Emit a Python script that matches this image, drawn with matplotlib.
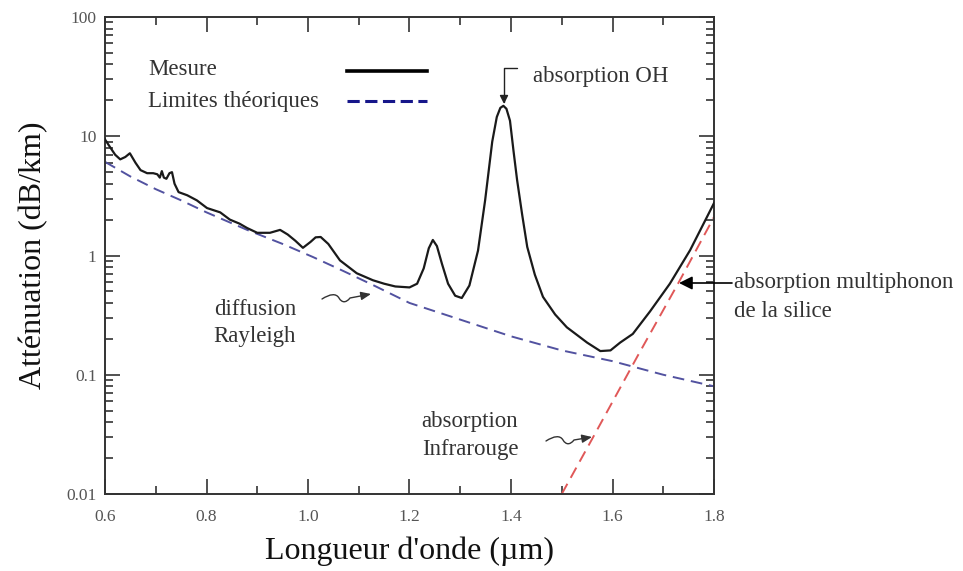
import matplotlib
matplotlib.use("Agg")
import matplotlib.pyplot as plt
from matplotlib.path import Path
from matplotlib.patches import FancyArrowPatch
from matplotlib.ticker import FixedLocator, LogLocator, NullFormatter

plt.rcParams['font.family'] = ['Liberation Serif', 'DejaVu Serif']

# measured attenuation (black curve)
wl_meas = [0.600, 0.610, 0.620, 0.630, 0.640, 0.649, 0.660, 0.670, 0.683, 0.695,
           0.703, 0.708, 0.712, 0.716, 0.721, 0.727, 0.732, 0.737, 0.745, 0.762,
           0.781, 0.801, 0.827, 0.846, 0.865, 0.880, 0.900, 0.925, 0.945, 0.960,
           0.975, 0.990, 1.005, 1.015, 1.025, 1.040, 1.063, 1.096, 1.128, 1.150,
           1.172, 1.200, 1.215, 1.228, 1.238, 1.246, 1.254, 1.264, 1.276, 1.290,
           1.303, 1.318, 1.335, 1.349, 1.363, 1.372, 1.379, 1.385, 1.391, 1.398,
           1.405, 1.412, 1.422, 1.432, 1.447, 1.463, 1.487, 1.510, 1.550, 1.576,
           1.596, 1.615, 1.640, 1.674, 1.713, 1.753, 1.800]
att_meas = [9.4, 8.1, 7.0, 6.4, 6.7, 7.2, 6.0, 5.2, 4.9, 4.9,
            4.8, 4.5, 5.1, 4.5, 4.4, 4.9, 5.0, 4.0, 3.4, 3.2,
            2.9, 2.5, 2.3, 2.0, 1.85, 1.7, 1.55, 1.55, 1.64, 1.5,
            1.33, 1.16, 1.3, 1.42, 1.43, 1.25, 0.91, 0.71, 0.62, 0.58,
            0.55, 0.54, 0.58, 0.78, 1.15, 1.35, 1.2, 0.85, 0.58, 0.46,
            0.44, 0.56, 1.1, 2.9, 9.0, 14.5, 17.3, 18.0, 17.0, 13.5,
            7.5, 4.3, 2.2, 1.18, 0.69, 0.45, 0.32, 0.25, 0.186, 0.158,
            0.16, 0.186, 0.22, 0.34, 0.58, 1.11, 2.75]

# theoretical limits: Rayleigh scattering (blue) and infrared absorption (red)
wl_ray = [0.60, 0.65, 0.70, 0.75, 0.80, 0.88, 0.95, 1.01, 1.07, 1.13,
          1.20, 1.30, 1.40, 1.50, 1.60, 1.70, 1.80]
att_ray = [6.1, 4.6, 3.6, 2.9, 2.3, 1.64, 1.25, 0.97, 0.74, 0.56,
           0.40, 0.29, 0.21, 0.16, 0.13, 0.10, 0.08]
wl_ir = [1.50, 1.56, 1.65, 1.73, 1.80]
att_ir = [0.010, 0.029, 0.145, 0.59, 2.1]

xticks = [0.6, 0.8, 1.0, 1.2, 1.4, 1.6, 1.8]
xlabels = ['0.6', '0.8', '1.0', '1.2', '1.4', '1.6', '1.8']
yticks = [0.01, 0.1, 1, 10, 100]
ylabels = ['0.01', '0.1', '1', '10', '100']

W, H = 963, 571
fig = plt.figure(figsize=(W / 100, H / 100), dpi=100)
ax = fig.add_axes([105 / W, 1 - 494 / H, 609 / W, 477 / H])


def fpx(x, y):
    # pixel position in the picture -> figure fraction
    return (x / W, 1 - y / H)


ax.plot(wl_meas, att_meas, color='#1a1a1a', lw=1.6, zorder=3)
ax.plot(wl_ray, att_ray, color='#5252a0', lw=1.4, ls=(0, (6, 3.5)), zorder=2)
ax.plot(wl_ir, att_ir, color='#e05858', lw=1.4, ls=(0, (6, 3.5)), zorder=2)

ax.set_yscale('log')
ax.set_xlim(0.6, 1.8)
ax.set_ylim(0.01, 100)
ax.set_xticks(xticks)
ax.set_xticklabels(xlabels)
ax.xaxis.set_minor_locator(FixedLocator([0.7, 0.9, 1.1, 1.3, 1.5, 1.7]))
ax.set_yticks(yticks)
ax.set_yticklabels(ylabels)
ax.yaxis.set_minor_locator(LogLocator(base=10, subs=range(2, 10)))
ax.yaxis.set_minor_formatter(NullFormatter())

ax.tick_params(which='both', direction='in', top=True, right=True,
               color='#333333', labelcolor='#555555', labelsize=12.5)
ax.tick_params(which='major', length=11, width=1.2)
ax.tick_params(which='minor', length=6, width=1.2)
ax.tick_params(axis='x', which='major', pad=11)
ax.tick_params(axis='y', which='major', pad=6)
for s in ax.spines.values():
    s.set_color('#333333')
    s.set_linewidth(1.4)

ax.set_xlabel("Longueur d'onde (\u00b5m)", fontsize=23, color='#111111')
ax.xaxis.set_label_coords(0.5, -0.090)
ax.xaxis.label.set_va('top')
ax.set_ylabel("Att\u00e9nuation (dB/km)", fontsize=23, color='#111111')
ax.yaxis.set_label_coords(-0.094, 0.5)

tfs = 16.5
tcol = '#333333'


def label(x, y, s, **kw):
    # one line of annotation text, baseline at pixel (x, y)
    fig.text(*fpx(x, y), s, fontsize=tfs, color=tcol, va='baseline', **kw)


# legend drawn by hand: labels left, samples right
label(148, 75, "Mesure")
label(148, 107, "Limites th\u00e9oriques")
fig.add_artist(plt.Line2D([347 / W, 427 / W], [1 - 71 / H, 1 - 71 / H],
                          color='black', lw=2.6, transform=fig.transFigure))
fig.add_artist(plt.Line2D([347 / W, 427 / W], [1 - 101 / H, 1 - 101 / H],
                          color='#16168a', lw=2.2, ls=(0, (4, 1.8)),
                          transform=fig.transFigure))

# absorption OH
label(533, 82, "absorption OH")
oh = Path([fpx(517, 68), fpx(504, 68), fpx(504, 104)],
          [Path.MOVETO, Path.LINETO, Path.LINETO])
fig.add_artist(FancyArrowPatch(path=oh, arrowstyle='-|>,head_length=5,head_width=2.5',
                               color='#222222', lw=1.0, transform=fig.transFigure))

# absorption multiphonon
label(734, 288, "absorption multiphonon")
label(734, 317, "de la silice")
mp = Path([fpx(732, 283), fpx(679, 283)], [Path.MOVETO, Path.LINETO])
fig.add_artist(FancyArrowPatch(path=mp, arrowstyle='-|>,head_length=8,head_width=4',
                               color='black', lw=1.2, transform=fig.transFigure))

# diffusion Rayleigh
label(255, 315, "diffusion", ha='center')
label(255, 342, "Rayleigh", ha='center')
ry = Path([fpx(322, 299), fpx(330, 294), fpx(336, 293), fpx(339, 298),
           fpx(342, 303), fpx(346, 303), fpx(350, 298), fpx(371, 294)],
          [Path.MOVETO, Path.CURVE4, Path.CURVE4, Path.CURVE4,
           Path.CURVE4, Path.CURVE4, Path.CURVE4, Path.LINETO])
fig.add_artist(FancyArrowPatch(path=ry, arrowstyle='-|>,head_length=6,head_width=2.5',
                               color='#333333', lw=1.0, transform=fig.transFigure))

# absorption Infrarouge
label(470, 427, "absorption", ha='center')
label(470, 455, "Infrarouge", ha='center')
ir = Path([fpx(546, 441), fpx(554, 436), fpx(560, 435), fpx(563, 440),
           fpx(566, 445), fpx(570, 445), fpx(574, 440), fpx(592, 437)],
          [Path.MOVETO, Path.CURVE4, Path.CURVE4, Path.CURVE4,
           Path.CURVE4, Path.CURVE4, Path.CURVE4, Path.LINETO])
fig.add_artist(FancyArrowPatch(path=ir, arrowstyle='-|>,head_length=6,head_width=2.5',
                               color='#333333', lw=1.0, transform=fig.transFigure))

fig.savefig('out.png', dpi=100, facecolor='white')
